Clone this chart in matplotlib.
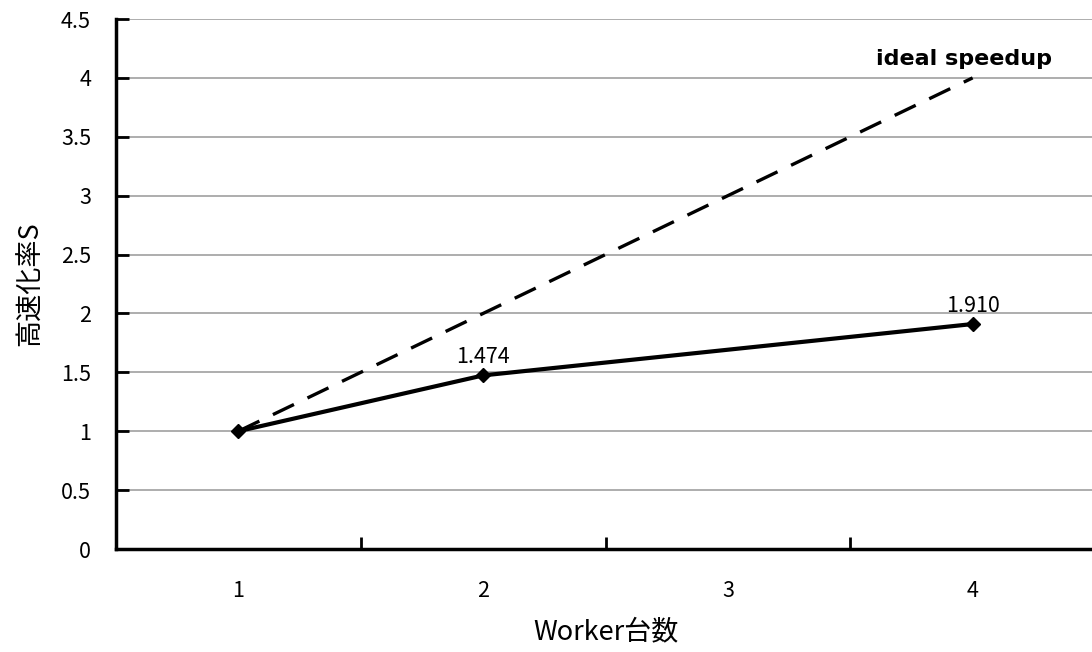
import matplotlib
matplotlib.use("Agg")
import matplotlib.pyplot as plt
from matplotlib.ticker import FixedLocator, NullFormatter

plt.rcParams['font.family'] = ['Noto Sans CJK JP', 'DejaVu Sans']

workers = [1, 2, 3, 4]
worker_labels = ["1", "2", "3", "4"]
measured_x = [1, 2, 4]
measured_speedup = [1.0, 1.474, 1.910]
ideal_x = [1, 4]
ideal_speedup = [1, 4]
y_ticks = [0, 0.5, 1, 1.5, 2, 2.5, 3, 3.5, 4, 4.5]

fig = plt.figure(figsize=(10.92, 6.52), dpi=100)
ax = fig.add_axes([116 / 1092, 1 - 549 / 652, (1095 - 116) / 1092, (549 - 19) / 652])

ax.set_xlim(0.5, 4.5)
ax.set_ylim(0, 4.5)

ax.grid(axis='y', color='#a0a0a0', linewidth=1.2, zorder=0)
ax.set_axisbelow(True)

ax.plot(ideal_x, ideal_speedup, color='black', linewidth=2.4,
        dashes=(7, 4.5), zorder=3)
ax.plot(measured_x, measured_speedup, color='black', linewidth=3.0,
        marker='D', markersize=7, zorder=4, clip_on=False)

for x, v in zip(measured_x[1:], measured_speedup[1:]):
    ax.annotate(f"{v:.3f}", (x, v), xytext=(0, 5), textcoords='offset points',
                ha='center', va='bottom', fontsize=15.5)

ax.annotate("ideal speedup", (ideal_x[-1], ideal_speedup[-1]), xytext=(-6.5, 9),
            textcoords='offset points', ha='center', va='baseline',
            fontsize=16, fontweight='bold', family='DejaVu Sans')

# category axis: tick marks between categories, labels at category centers
ax.xaxis.set_major_locator(FixedLocator([1.5, 2.5, 3.5]))
ax.xaxis.set_major_formatter(NullFormatter())
ax.xaxis.set_minor_locator(FixedLocator(workers))
ax.set_xticklabels(worker_labels, minor=True)
ax.tick_params(axis='x', which='major', direction='in', length=9, width=2)
ax.tick_params(axis='x', which='minor', length=0, pad=22, labelsize=15.5)

ax.set_yticks(y_ticks)
ax.set_yticklabels([f"{t:g}" for t in y_ticks])
ax.tick_params(axis='y', direction='in', length=9, width=2, pad=18, labelsize=15.5)

for side in ('top', 'right'):
    ax.spines[side].set_visible(False)
for side in ('left', 'bottom'):
    ax.spines[side].set_linewidth(2.5)

ax.set_xlabel("Worker台数", fontsize=19.5, labelpad=12)
ax.set_ylabel("高速化率S", fontsize=19.5, labelpad=12)

fig.savefig("out.png", dpi=100, facecolor='white')
